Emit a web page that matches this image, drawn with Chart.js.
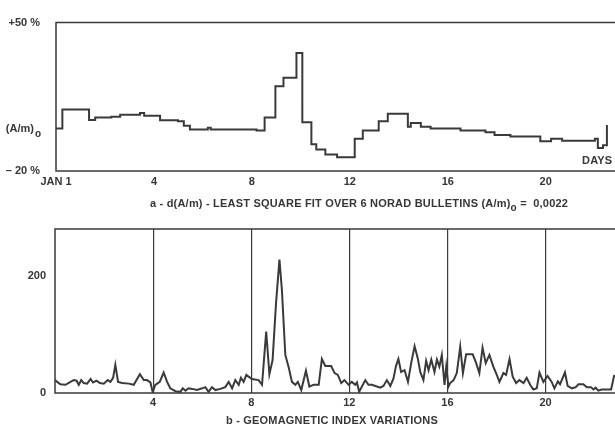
<!DOCTYPE html>
<html>
<head>
<meta charset="utf-8">
<script src="https://cdn.jsdelivr.net/npm/chart.js@4.4.1/dist/chart.umd.min.js"></script>
<style>
  body { margin: 0; background: #fff; }
  #wrap { position: relative; width: 615px; height: 429px; overflow: hidden; font-family: "Liberation Sans", Arial, sans-serif; color: #363636; }
  canvas { position: absolute; left: 0; }
  .lbl { position: absolute; white-space: nowrap; font-weight: bold; font-size: 11px; letter-spacing: 0.2px; }
  .lbl sub { font-size: 10px; vertical-align: -4px; }
</style>
</head>
<body>
<div id="wrap">
  <canvas id="topChart" width="615" height="200" style="top:0"></canvas>
  <canvas id="botChart" width="615" height="229" style="top:200px"></canvas>
  <div class="lbl" style="left:582px; top:154px;">DAYS</div>
  <div class="lbl" style="left:150px; top:197px;">a - d(A/m) - LEAST SQUARE FIT OVER 6 NORAD BULLETINS (A/m)<sub>o</sub> =&nbsp; 0,0022</div>
  <div class="lbl" style="left:226px; top:414px;">b - GEOMAGNETIC INDEX VARIATIONS</div>
</div>
<script>
// panel a : step curve, day where each level starts, deviation in %
const daysA = [0, 0.26, 1.35, 1.6, 2.26, 2.62, 3.43, 3.6, 4.25, 4.98, 5.22, 5.47, 6.2, 6.32,
  8.19, 8.52, 8.96, 9.29, 9.82, 10.06, 10.43, 10.63, 11.0, 11.48, 12.2, 12.53, 13.18, 13.55,
  14.37, 14.49, 14.9, 15.3, 16.52, 17.54, 17.91, 18.56, 19.78, 20.22, 20.67, 22.01, 22.13, 22.34, 22.5];
const pctA = [0, 9, 4, 5.2, 5.6, 6.5, 7.4, 6.1, 3.9, 3.5, 1.3, -0.4, 0.4, -0.4,
  -0.9, 5.2, 20, 24, 35.7, 3, -7.4, -9.8, -12.2, -13.5, -4.8, -0.9, 3.5, 7,
  0.9, 2.6, 0.9, 0, -0.9, -1.7, -3, -3.7, -6, -4.8, -5.7, -4.8, -9.1, -7.8, 1.7];
const tickValsA = [-20, 0, 50];
const tickLabelsA = ['\u2013 20 %', '(A/m)  ', '+50 %'];
const dayTicksA = [0, 4, 8, 12, 16, 20];
const dayLabelsA = ['JAN 1', '4', '8', '12', '16', '20'];

// panel b : geomagnetic index
const daysB = [0, 0.09, 0.22, 0.43, 0.63, 0.77, 0.88, 0.97, 1.07, 1.17, 1.31, 1.45, 1.55, 1.69, 1.83, 1.99,
  2.15, 2.26, 2.37, 2.46, 2.57, 2.74, 3.01, 3.21, 3.46, 3.62, 3.75, 3.89, 3.98, 4.09, 4.27, 4.43,
  4.57, 4.7, 4.91, 5.11, 5.21, 5.32, 5.45, 5.59, 5.79, 6.0, 6.13, 6.26, 6.4, 6.54, 6.74, 6.94,
  7.08, 7.22, 7.35, 7.49, 7.58, 7.69, 7.8, 7.89, 8.03, 8.3, 8.44, 8.61, 8.74, 8.87, 9.01, 9.15,
  9.25, 9.39, 9.52, 9.66, 9.8, 9.9, 10.04, 10.23, 10.37, 10.54, 10.75, 10.88, 11.02, 11.26, 11.4, 11.53,
  11.67, 11.8, 11.97, 12.1, 12.24, 12.31, 12.4, 12.65, 12.78, 12.92, 13.12, 13.26, 13.39, 13.53, 13.67, 13.8,
  13.9, 14.0, 14.11, 14.25, 14.39, 14.52, 14.66, 14.79, 14.89, 15.02, 15.13, 15.23, 15.34, 15.47, 15.57, 15.67,
  15.77, 15.88, 15.95, 16.04, 16.11, 16.25, 16.38, 16.52, 16.63, 16.76, 17.03, 17.17, 17.3, 17.43, 17.56, 17.71,
  17.87, 18.01, 18.12, 18.28, 18.39, 18.53, 18.66, 18.8, 18.93, 19.1, 19.23, 19.37, 19.5, 19.64, 19.75, 19.91,
  20.08, 20.25, 20.36, 20.5, 20.59, 20.68, 20.79, 20.9, 21.07, 21.23, 21.34, 21.54, 21.68, 21.85, 21.95, 22.04,
  22.15, 22.29, 22.53, 22.67, 22.8];
const indexB = [22, 19, 15, 14, 19, 22, 21, 14, 22, 17, 16, 24, 18, 21, 17, 16,
  22, 19, 26, 48, 19, 17, 16, 14, 32, 22, 22, 18, 2, 14, 19, 35,
  19, 8, 3, 2, 8, 4, 8, 7, 5, 8, 10, 2, 10, 5, 7, 10,
  19, 8, 22, 14, 26, 19, 31, 28, 24, 22, 14, 105, 32, 56, 153, 228,
  176, 65, 45, 19, 14, 19, 5, 38, 11, 14, 14, 58, 46, 46, 34, 31,
  17, 22, 14, 19, 14, 18, 2, 22, 14, 14, 11, 9, 12, 22, 12, 25,
  46, 58, 36, 39, 19, 51, 80, 59, 36, 22, 55, 39, 57, 36, 57, 45,
  65, 14, 45, 11, 17, 22, 34, 79, 34, 66, 66, 51, 34, 77, 51, 65,
  45, 31, 19, 34, 31, 58, 28, 17, 22, 17, 26, 14, 6, 8, 35, 19,
  29, 19, 8, 20, 15, 24, 35, 12, 8, 10, 15, 15, 10, 10, 6, 9,
  4, 6, 6, 6, 31];
const tickValsB = [0, 200];
const dayTicksB = [4, 8, 12, 16, 20];

const dayMax = 22.83;
const ink = '#3a3a3a';

Chart.defaults.font.family = '"Liberation Sans", Arial, sans-serif';
Chart.defaults.font.weight = 'bold';
Chart.defaults.font.size = 11;
Chart.defaults.color = '#363636';

// left, top and bottom frame lines (right side runs off the page)
const frame = {
  id: 'frame',
  afterDraw(chart) {
    const { ctx, chartArea: a } = chart;
    ctx.save();
    ctx.strokeStyle = ink;
    ctx.lineWidth = 1.5;
    ctx.beginPath();
    ctx.moveTo(a.right + 5, a.top);
    ctx.lineTo(a.left, a.top);
    ctx.lineTo(a.left, a.bottom);
    ctx.lineTo(a.right + 5, a.bottom);
    ctx.stroke();
    ctx.restore();
  }
};

// subscript "o" after (A/m)
const subO = {
  id: 'subO',
  afterDraw(chart) {
    const y = chart.scales.y.getPixelForValue(0);
    const ctx = chart.ctx;
    ctx.save();
    ctx.font = 'bold 10px "Liberation Sans", Arial, sans-serif';
    ctx.fillStyle = '#363636';
    ctx.textBaseline = 'middle';
    ctx.fillText('o', 35, y + 6);
    ctx.restore();
  }
};

new Chart(document.getElementById('topChart'), {
  type: 'line',
  data: {
    datasets: [{
      data: daysA.map((d, i) => ({ x: d, y: pctA[i] })),
      stepped: 'before',
      borderColor: ink,
      borderWidth: 2,
      pointRadius: 0,
      fill: false
    }]
  },
  options: {
    responsive: false,
    animation: false,
    events: [],
    layout: { padding: { top: 10, left: 0, right: 0, bottom: 0 } },
    plugins: { legend: { display: false }, tooltip: { enabled: false } },
    scales: {
      x: {
        type: 'linear',
        min: 0,
        max: dayMax,
        afterBuildTicks: s => { s.ticks = dayTicksA.map(v => ({ value: v })); },
        afterFit: s => { s.height = 29; },
        grid: { display: false, drawTicks: false },
        border: { display: false },
        ticks: {
          padding: 4,
          maxRotation: 0,
          autoSkip: false,
          callback: (v) => dayLabelsA[dayTicksA.indexOf(v)]
        }
      },
      y: {
        min: -20,
        max: 50,
        afterBuildTicks: s => { s.ticks = tickValsA.map(v => ({ value: v })); },
        afterFit: s => { s.width = 56; },
        grid: { display: false, drawTicks: false },
        border: { display: false },
        ticks: {
          padding: 16,
          autoSkip: false,
          callback: (v) => tickLabelsA[tickValsA.indexOf(v)]
        }
      }
    }
  },
  plugins: [frame, subO]
});

new Chart(document.getElementById('botChart'), {
  type: 'line',
  data: {
    datasets: [{
      data: daysB.map((d, i) => ({ x: d, y: indexB[i] })),
      borderColor: ink,
      borderWidth: 2,
      pointRadius: 0,
      tension: 0,
      fill: false
    }]
  },
  options: {
    responsive: false,
    animation: false,
    events: [],
    layout: { padding: { top: 29, left: 0, right: 0, bottom: 0 } },
    plugins: { legend: { display: false }, tooltip: { enabled: false } },
    scales: {
      x: {
        type: 'linear',
        min: 0,
        max: dayMax,
        afterBuildTicks: s => { s.ticks = dayTicksB.map(v => ({ value: v })); },
        afterFit: s => { s.height = 36; },
        grid: { color: ink, lineWidth: 1.2, drawTicks: false },
        border: { display: false },
        ticks: { padding: 3, maxRotation: 0, autoSkip: false }
      },
      y: {
        min: 0,
        max: 280,
        afterBuildTicks: s => { s.ticks = tickValsB.map(v => ({ value: v })); },
        afterFit: s => { s.width = 55; },
        grid: { display: false, drawTicks: false },
        border: { display: false },
        ticks: { padding: 9, autoSkip: false }
      }
    }
  },
  plugins: [frame]
});
</script>
</body>
</html>
